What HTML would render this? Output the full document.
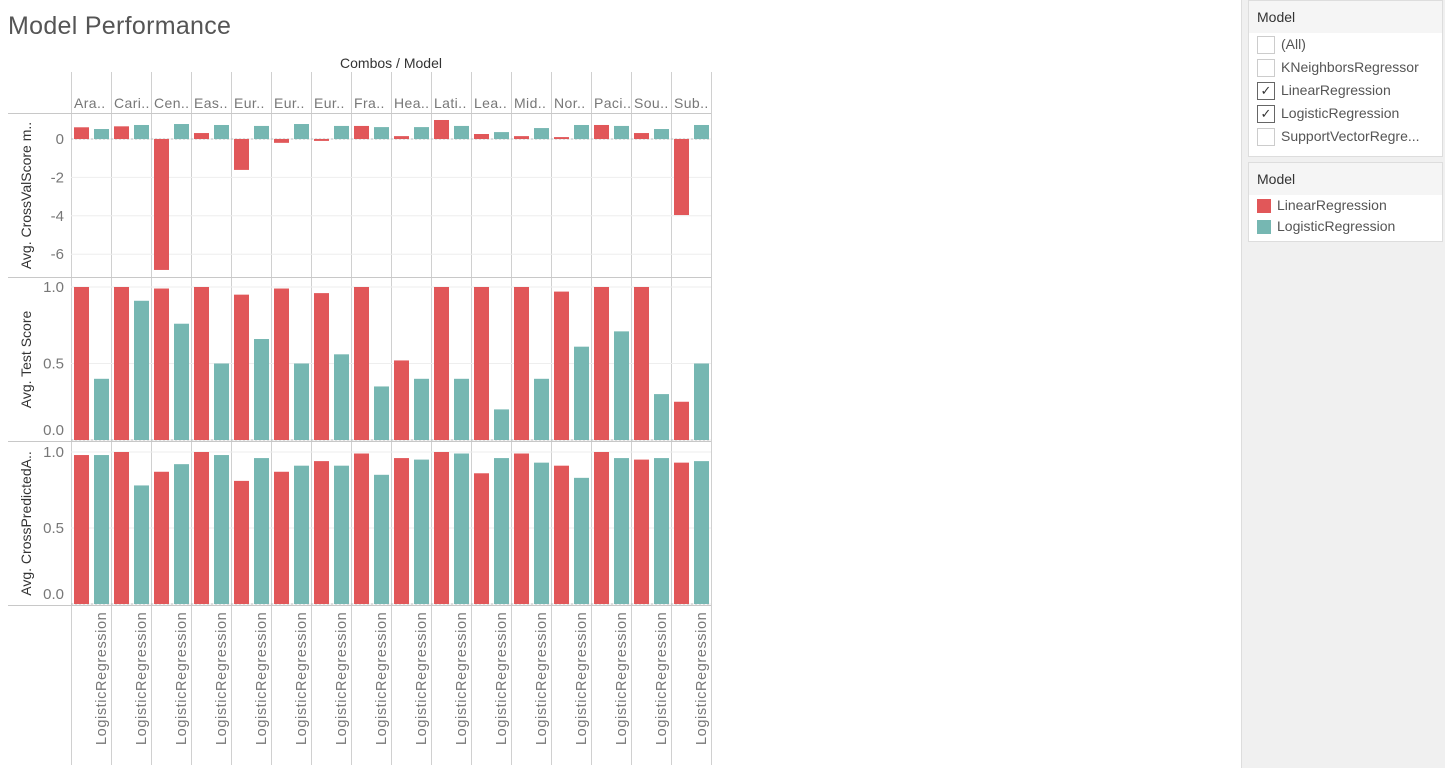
<!DOCTYPE html>
<html><head><meta charset="utf-8">
<style>
body{margin:0;width:1445px;height:768px;background:#fff;font-family:"Liberation Sans",sans-serif;overflow:hidden;position:relative}
#title{position:absolute;left:8px;top:12px;font-size:25px;color:#555;font-weight:normal;letter-spacing:0.3px}
#side{position:absolute;left:1241px;top:0;width:204px;height:768px;background:#f0f0f0;border-left:1px solid #ddd}
.card{position:absolute;left:6px;width:193px;background:#fff;border:1px solid #ddd}
.hdr{background:#f5f5f5;height:32px;line-height:32px;padding-left:8px;font-size:14px;color:#333}
.row{height:23px;line-height:23px;font-size:14px;color:#555;padding-left:8px;white-space:nowrap}
.cb{display:inline-block;width:16px;height:16px;border:1px solid #ccc;vertical-align:middle;margin-right:6px;font-size:13px;line-height:16px;text-align:center;color:#333;background:#fff}
.cb.on{border-color:#666}
.sw{display:inline-block;width:14px;height:14px;vertical-align:middle;margin-right:6px}
</style></head><body>
<div id="title">Model Performance</div>
<svg id="chart" width="1240" height="768" style="position:absolute;left:0;top:0"></svg>
<div id="side">
 <div class="card" style="top:0;height:155px">
  <div class="hdr">Model</div>
  <div class="row"><span class="cb"></span>(All)</div>
  <div class="row"><span class="cb"></span>KNeighborsRegressor</div>
  <div class="row"><span class="cb on">✓</span>LinearRegression</div>
  <div class="row"><span class="cb on">✓</span>LogisticRegression</div>
  <div class="row"><span class="cb"></span>SupportVectorRegre...</div>
 </div>
 <div class="card" style="top:162px;height:78px">
  <div class="hdr">Model</div>
  <div class="row" style="height:21px;line-height:21px"><span class="sw" style="background:#e15759"></span>LinearRegression</div>
  <div class="row" style="height:21px;line-height:21px"><span class="sw" style="background:#76b7b2"></span>LogisticRegression</div>
 </div>
</div>
<script>
const categories=["Ara..","Cari..","Cen..","Eas..","Eur..","Eur..","Eur..","Fra..","Hea..","Lati..","Lea..","Mid..","Nor..","Paci..","Sou..","Sub.."];
const cvLinear=[0.61,0.66,-6.82,0.31,-1.61,-0.2,-0.1,0.68,0.15,0.99,0.26,0.15,0.1,0.73,0.31,-3.96];
const cvLogistic=[0.52,0.73,0.78,0.73,0.68,0.78,0.68,0.62,0.62,0.68,0.36,0.57,0.73,0.68,0.52,0.73];
const testLinear=[1.0,1.0,0.99,1.0,0.95,0.99,0.96,1.0,0.52,1.0,1.0,1.0,0.97,1.0,1.0,0.25];
const testLogistic=[0.40,0.91,0.76,0.50,0.66,0.50,0.56,0.35,0.40,0.40,0.20,0.40,0.61,0.71,0.30,0.50];
const cpLinear=[0.98,1.0,0.87,1.0,0.81,0.87,0.94,0.99,0.96,1.0,0.86,0.99,0.91,1.0,0.95,0.93];
const cpLogistic=[0.98,0.78,0.92,0.98,0.96,0.91,0.91,0.85,0.95,0.99,0.96,0.93,0.83,0.96,0.96,0.94];
const cvTicks=[0,-2,-4,-6];
const testTicks=[0.0,0.5,1.0];
const cpTicks=[0.0,0.5,1.0];

const svg=document.getElementById('chart');
const NS='http://www.w3.org/2000/svg';
function mk(t,a,p){const e=document.createElementNS(NS,t);for(const k in a)e.setAttribute(k,a[k]);(p||svg).appendChild(e);return e;}
const X0=71,CW=40;
function colX(i){return X0+i*CW;}
const panels=[
 {top:114,bot:277,y:v=>139-v*19.2,ticks:cvTicks,fmt:v=>String(v),title:"Avg. CrossValScore m..",a:cvLinear,b:cvLogistic,name:'crossval'},
 {top:278,bot:441,y:v=>440-v*153,ticks:testTicks,fmt:v=>v.toFixed(1),title:"Avg. Test Score",a:testLinear,b:testLogistic,name:'test'},
 {top:442,bot:605,y:v=>604-v*152,ticks:cpTicks,fmt:v=>v.toFixed(1),title:"Avg. CrossPredictedA..",a:cpLinear,b:cpLogistic,name:'crosspred'}
];
let t=mk('text',{x:391,y:68,'text-anchor':'middle','font-size':14,fill:'#333'});t.textContent='Combos / Model';


categories.forEach((c,i)=>{
 const e=mk('text',{x:colX(i)+3,y:108,'font-size':14,fill:'#777','letter-spacing':'0.4'});e.textContent=c;
 
 
 const l=mk('text',{transform:`translate(${colX(i)+35},745) rotate(-90)`,'font-size':14.5,fill:'#777','letter-spacing':'0.6'});l.textContent='LogisticRegression';
 
 
});
for(let i=0;i<=16;i++){const l=mk('line',{x1:colX(i)+.5,x2:colX(i)+.5,y1:72,y2:765,stroke:'#d0d0d0'});
 
 }
panels.forEach(p=>{
 p.ticks.forEach(v=>{
  const g=mk('line',{x1:X0,x2:711,y1:p.y(v),y2:p.y(v),stroke:'#eee'});
  
  
  let ly=p.y(v)+5;
  if(p.bot-ly<12) ly=p.bot-6;
  const e=mk('text',{x:64,y:ly,'text-anchor':'end','font-size':15,fill:'#777'});e.textContent=p.fmt(v);
  
  
 });
 const z=mk('line',{x1:X0,x2:711,y1:p.y(0),y2:p.y(0),stroke:'#bbb','stroke-dasharray':'2,2'});
 
 
 const tt=mk('text',{transform:`translate(31,${(p.top+p.bot)/2}) rotate(-90)`,'text-anchor':'middle','font-size':14,fill:'#333'});tt.textContent=p.title;
 
 
 categories.forEach((c,i)=>{
  [[p.a[i],3,'#e15759'],[p.b[i],23,'#76b7b2']].forEach(([v,off,col])=>{
   const y0=p.y(0),y1=p.y(v);
   const r=mk('rect',{x:colX(i)+off,y:Math.min(y0,y1),width:15,height:Math.abs(y1-y0),fill:col});
   
   
  });
 });
 const b=mk('line',{x1:8,x2:711,y1:p.bot+.5,y2:p.bot+.5,stroke:'#c8c8c8'});
 
 
});
const tl=mk('line',{x1:8,x2:711,y1:113.5,y2:113.5,stroke:'#c8c8c8'});


</script>
</body></html>
